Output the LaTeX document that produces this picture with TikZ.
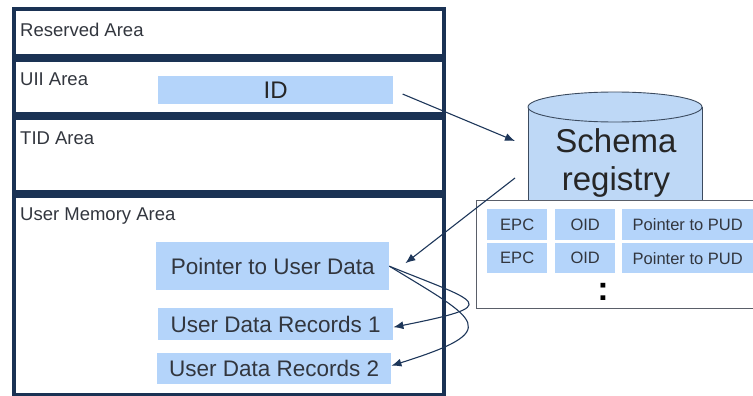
\documentclass[tikz,border=0pt]{standalone}
\usepackage{fontspec}
\setmainfont{Liberation Sans}
\usetikzlibrary{arrows.meta}
\definecolor{frame}{RGB}{26,50,84}
\definecolor{cellblue}{RGB}{180,212,250}
\definecolor{txt}{RGB}{50,54,62}
\definecolor{arrowc}{RGB}{30,55,90}
\definecolor{cyl}{RGB}{190,216,246}
\definecolor{cylline}{RGB}{60,75,95}
\definecolor{tblline}{RGB}{90,95,105}

\begin{document}
\begin{tikzpicture}[x=1pt,y=-1pt,
  area/.style={draw=frame, line width=4pt, inner sep=0, anchor=north west, minimum width=429.5pt},
  arealabel/.style={anchor=base west, text=txt, inner sep=0, font=\fontsize{18.5}{22}\selectfont},
  field/.style={fill=cellblue, inner sep=0, anchor=north west, text=txt, font=\fontsize{22.5}{26}\selectfont},
  cell/.style={fill=cellblue, inner sep=0, anchor=north west, text=txt, font=\fontsize{16.5}{19}\selectfont, minimum height=31pt},
  link/.style={draw=arrowc, line width=1.1pt, -{Latex[length=10pt,width=8pt]}}]

\useasboundingbox (0,0) rectangle (753,396);
\clip (0,0) rectangle (753,396);

% memory banks of the tag
\node[area, minimum height=46.5pt] (res) at (12,7.5)   {};
\node[area, minimum height=53.5pt] (uii) at (12,58.5)  {};
\node[area, minimum height=74.5pt] (tid) at (12,115.5) {};
\node[area, minimum height=199pt]  (usr) at (12,193.5) {};

\node[arealabel] (resl) at (20,36.5) {Reserved Area};
\node[arealabel] (uiil) at (20,85)   {UII Area};
\node[arealabel] (tidl) at (20,144)  {TID Area};
\node[arealabel] (usrl) at (20,220)  {User Memory Area};

% fields stored in the banks
\node[field, minimum width=235pt, minimum height=28pt, text=black!85, font=\fontsize{24}{28}\selectfont] (id) at (158,76) {ID};
\node[field, minimum width=233pt, minimum height=48pt] (ptr)  at (156,242) {Pointer to User Data};
\node[field, minimum width=235pt, minimum height=32pt] (rec1) at (158,308) {User Data Records 1};
\node[field, minimum width=234pt, minimum height=31pt] (rec2) at (157,353) {User Data Records 2};

% schema registry database
\fill[cyl] (528,107) -- (528,240) -- (702,240) -- (702,107) -- cycle;
\draw[cylline, line width=0.9pt] (528,107) -- (528,240);
\draw[cylline, line width=0.9pt] (702,107) -- (702,240);
\draw[cylline, line width=0.9pt, fill=cyl] (615,107) ellipse [x radius=87, y radius=15];
\node[anchor=base, text=black!85, inner sep=0, font=\fontsize{33}{36}\selectfont] (schema) at (616,153) {Schema};
\node[anchor=base, text=black!85, inner sep=0, font=\fontsize{33}{36}\selectfont] (registry) at (616,190) {registry};

% registry table
\node[draw=tblline, fill=white, line width=1pt, inner sep=0, anchor=north west,
      minimum width=290pt, minimum height=108pt] (tbl) at (476,200) {};
\node[cell, minimum width=60pt]  (epc1) at (487,209) {EPC};
\node[cell, minimum width=60pt]  (oid1) at (555,209) {OID};
\node[cell, minimum width=131pt] (pud1) at (622,209) {Pointer to PUD};
\node[cell, minimum width=60pt, minimum height=30pt]  (epc2) at (487,243) {EPC};
\node[cell, minimum width=60pt, minimum height=30pt]  (oid2) at (555,243) {OID};
\node[cell, minimum width=131pt, minimum height=30pt] (pud2) at (622,243) {Pointer to PUD};
\node[text=black, inner sep=0, font=\bfseries\fontsize{34}{34}\selectfont] (more) at (603,292) {:};

% connectors
\coordinate (cylIn)  at (515,141);
\coordinate (cylOut) at (515,178);
\coordinate (ptrIn)  at ([xshift=16pt,yshift=3pt]ptr.east);
\draw[link, shorten <=10pt] (id.east) -- (cylIn);
\draw[link] (cylOut) -- (ptrIn);
\draw[link] (ptr.east) .. controls (480,303) and (505,305) .. ([yshift=-3pt]rec1.east);
\draw[link] (ptr.east) .. controls (479,321) and (505,330) .. ([yshift=3pt]rec2.east);
\end{tikzpicture}
\end{document}
